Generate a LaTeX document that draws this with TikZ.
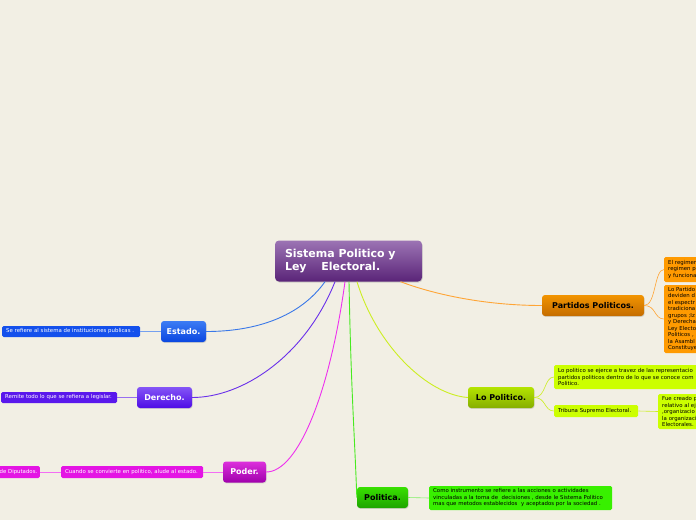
\documentclass[tikz,border=0pt]{standalone}
\usepackage{fontspec}
\setmainfont{DejaVu Sans}
\usetikzlibrary{shadows}
\newcommand\myNoHyph{\hyphenpenalty=10000\relax\exhyphenpenalty=10000\relax}
\definecolor{bg}{HTML}{F2EFE4}
\definecolor{mainT}{HTML}{9C74B4}
\definecolor{mainB}{HTML}{5A2478}
\definecolor{estT}{HTML}{3C7CF4}
\definecolor{estB}{HTML}{0A46E0}
\definecolor{estS}{HTML}{1450EC}
\definecolor{estL}{HTML}{3A78E8}
\definecolor{derT}{HTML}{8455F6}
\definecolor{derB}{HTML}{4E0CE6}
\definecolor{derS}{HTML}{5A18EC}
\definecolor{derL}{HTML}{6A30EA}
\definecolor{podT}{HTML}{DC30DC}
\definecolor{podB}{HTML}{A000AC}
\definecolor{podS}{HTML}{E414E4}
\definecolor{podL}{HTML}{EE30EE}
\definecolor{polT}{HTML}{38E000}
\definecolor{polB}{HTML}{1EA400}
\definecolor{polS}{HTML}{38F000}
\definecolor{polL}{HTML}{48EA20}
\definecolor{loT}{HTML}{B4E400}
\definecolor{loB}{HTML}{86AE00}
\definecolor{loS}{HTML}{CCFF00}
\definecolor{loL}{HTML}{CCEE22}
\definecolor{parT}{HTML}{F29400}
\definecolor{parB}{HTML}{C46C00}
\definecolor{parS}{HTML}{FF9A00}
\definecolor{parL}{HTML}{FFA535}
\begin{document}
\begin{tikzpicture}[x=1pt,y=-1pt,
  topic/.style={rounded corners=3pt, inner sep=0pt, font=\bfseries\fontsize{8}{9}\selectfont,
    drop shadow={shadow xshift=0.6pt,shadow yshift=-0.9pt,opacity=0.25}},
  mainbox/.style={rounded corners=4pt, inner xsep=10pt, inner ysep=0pt, top color=mainT, bottom color=mainB, text=white,
    font=\bfseries\fontsize{11}{13.5}\selectfont, align=left, text width=127pt, minimum height=41pt,
    drop shadow={shadow xshift=0.6pt,shadow yshift=-1pt,opacity=0.3}},
  subbox/.style={rounded corners=1.5pt, inner xsep=4pt, inner ysep=2pt,
    font=\fontsize{5.4}{6.5}\selectfont, execute at begin node=\myNoHyph, align=left},
  conn/.style={line width=0.9pt},
  subconn/.style={line width=0.6pt},
]
\clip (0,0) rectangle (696,520);
\fill[bg] (0,0) rectangle (696,520);

% main node
\node[mainbox] (main) at (348.5,261) {Sistema Politico y\\Ley\ \ \ \ Electoral.};

% topics
\node[topic, top color=estT, bottom color=estB, text=white, minimum width=45pt, minimum height=21pt] (estado) at (183.5,331.5) {Estado.};
\node[topic, top color=derT, bottom color=derB, text=white, minimum width=55pt, minimum height=21pt] (derecho) at (164.5,397.5) {Derecho.};
\node[topic, top color=podT, bottom color=podB, text=white, minimum width=43pt, minimum height=21pt] (poder) at (244.5,472) {Poder.};
\node[topic, top color=polT, bottom color=polB, text=black, minimum width=51pt, minimum height=21pt] (politica) at (382.5,497.5) {Politica.};
\node[topic, top color=loT, bottom color=loB, text=black, minimum width=66pt, minimum height=21pt] (lopol) at (501,397.5) {Lo Politico.};
\node[topic, top color=parT, bottom color=parB, text=black, minimum width=102pt, minimum height=21pt] (partidos) at (593,305.5) {Partidos Politicos.};

% sub nodes
\node[subbox, fill=estS, text=white, text width=130pt, minimum height=11pt, anchor=west] (estsub) at (2,331.5) {Se refiere al sistema de instituciones publicas .};
\node[subbox, fill=derS, text=white, text width=108pt, minimum height=11pt, anchor=west] (dersub) at (1,397.5) {Remite todo lo que se refiera a legislar.};
\node[subbox, fill=podS, text=white, text width=134pt, minimum height=12pt, anchor=west] (podsub) at (61,472) {Cuando se convierte en politico, alude al estado.};
\node[subbox, fill=podS, text=white, minimum height=12pt, inner xsep=2.5pt, anchor=east] (podsubb) at (40,472) {de Diputados.};
\node[subbox, fill=polS, text=black, text width=175pt, minimum height=24pt, anchor=west] (polsub) at (429,498) {Como instrumento se refiere a las acciones o actividades\\vinculadas a la toma de\ \ decisiones , desde le Sistema Politico\\mas que metodos establecidos\ \ y aceptados por la sociedad .};
\node[subbox, fill=loS, text=black, text width=200pt, minimum height=24pt, anchor=west] (losuba) at (554,377) {Lo politico se ejerce a travez de las representacio\\partidos politicos dentro de lo que se conoce com\\Politico.};
\node[subbox, fill=loS, text=black, text width=76pt, minimum height=12pt, anchor=west] (losubb) at (554,411) {Tribuna Supremo Electoral.};
\node[subbox, fill=loS, text=black, text width=50pt, minimum height=35pt, anchor=west] (losubc) at (658,411.5) {Fue creado p\\relativo al ej\\,organizacio\\la organizaci\\Electorales.};
\node[subbox, fill=parS, text=black, text width=50pt, minimum height=25pt, anchor=west] (parsuba) at (664,269.5) {El regimen\\regimen p\\y funciona};
\node[subbox, fill=parS, text=black, text width=50pt, minimum height=68pt, anchor=west] (parsubb) at (664,319) {Lo Partido\\deviden d\\el espectr\\tradiciona\\grupos ;Iz\\y Derecha\\Ley Electo\\Politicos ,\\la Asambl\\Constituye};

% connectors
\draw[conn, estL] ([xshift=-23.5pt]main.south) .. controls +(-25,35) and +(50,0) .. (estado.east);
\draw[conn, derL] ([xshift=-13.5pt]main.south) .. controls +(-30,75) and +(50,0) .. (derecho.east);
\draw[conn, podL] ([xshift=-3.5pt]main.south) .. controls +(-15,110) and +(32,0) .. (poder.east);
\draw[conn, polL] ([xshift=0.5pt]main.south) .. controls +(2,110) and +(-2,-60) .. (politica.west);
\draw[conn, loL] ([xshift=8.5pt]main.south) .. controls +(20,65) and +(-40,-3) .. (lopol.west);
\draw[conn, parL] ([xshift=52pt]main.south) .. controls +(40,15) and +(-50,0) .. (partidos.west);

\draw[subconn, estL!70] (estsub.east) -- (estado.west);
\draw[subconn, derL!70] (dersub.east) -- (derecho.west);
\draw[subconn, podL!70] (podsub.east) -- (poder.west);
\draw[subconn, podL!70] (podsubb.east) -- (podsub.west);
\draw[subconn, polL!70] (politica.east) -- (polsub.west);
\draw[subconn, loL] (lopol.east) .. controls +(12,0) and +(-10,0) .. (losuba.west);
\draw[subconn, loL] (lopol.east) .. controls +(12,0) and +(-10,0) .. (losubb.west);
\draw[subconn, loL] (losubb.east) -- (losubc.west);
\draw[subconn, parL] (partidos.east) .. controls +(12,0) and +(-10,0) .. (parsuba.west);
\draw[subconn, parL] (partidos.east) .. controls +(12,0) and +(-10,0) .. (parsubb.west);
\end{tikzpicture}
\end{document}
